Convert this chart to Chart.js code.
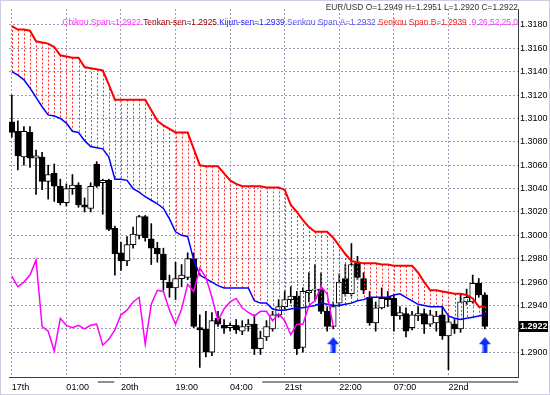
<!doctype html>
<html lang="en">
<head>
<meta charset="UTF-8" />
<title>EUR/USD Ichimoku</title>
<script src="https://cdn.jsdelivr.net/npm/chart.js"></script>
<style>
  html, body { margin: 0; padding: 0; background: #fff; }
  canvas { display: block; }
</style>
</head>
<body>
<canvas id="ichimoku" width="550" height="395"></canvas>
<script>
// candles, one per bar (bar 0 = left edge)
const opens = [
  1.3097, 1.3089, 1.3067, 1.3088, 1.3066, 1.3067, 1.3046, 1.3053, 1.3042, 1.3028,
  1.3040, 1.3043, 1.3026, 1.3023, 1.3061, 1.3045, 1.3047, 1.3006, 1.2985, 1.2978,
  1.2992, 1.3000, 1.3016, 1.2997, 1.2989, 1.2984, 1.2960, 1.2955, 1.2963, 1.2964,
  1.2980, 1.2921, 1.2920, 1.2900, 1.2929, 1.2923, 1.2921, 1.2923, 1.2918, 1.2922,
  1.2924, 1.2903, 1.2913, 1.2920, 1.2932, 1.2939, 1.2945, 1.2948, 1.2904, 1.2951,
  1.2953, 1.2954, 1.2935, 1.2922, 1.2942, 1.2963, 1.2950, 1.2976, 1.2963, 1.2947,
  1.2925, 1.2938, 1.2947, 1.2946, 1.2931, 1.2933, 1.2921, 1.2931, 1.2933, 1.2924,
  1.2925, 1.2932, 1.2914, 1.2924, 1.2920, 1.2943, 1.2943, 1.2959, 1.2949
];
const highs = [
  1.3120, 1.3098, 1.3093, 1.3093, 1.3073, 1.3071, 1.3060, 1.3061, 1.3048, 1.3044,
  1.3052, 1.3045, 1.3032, 1.3045, 1.3063, 1.3048, 1.3048, 1.3008, 1.2994, 1.2999,
  1.3007, 1.3017, 1.3017, 1.3010, 1.2994, 1.2989, 1.2966, 1.2977, 1.2975, 1.2985,
  1.2985, 1.2932, 1.2935, 1.2934, 1.2935, 1.2928, 1.2925, 1.2928, 1.2927, 1.2928,
  1.2932, 1.2918, 1.2927, 1.2935, 1.2945, 1.2952, 1.2956, 1.2952, 1.2955, 1.2968,
  1.2975, 1.2968, 1.2939, 1.2943, 1.2967, 1.2975, 1.2993, 1.2982, 1.2968, 1.2952,
  1.2943, 1.2955, 1.2952, 1.2949, 1.2939, 1.2938, 1.2935, 1.2939, 1.2937, 1.2936,
  1.2935, 1.2939, 1.2931, 1.2928, 1.2950, 1.2954, 1.2966, 1.2963, 1.2951
];
const lows = [
  1.3084, 1.3056, 1.3060, 1.3058, 1.3035, 1.3039, 1.3031, 1.3029, 1.3026, 1.3025,
  1.3035, 1.3024, 1.3020, 1.3020, 1.3041, 1.3018, 1.3004, 1.2966, 1.2970, 1.2974,
  1.2989, 1.2997, 1.2995, 1.2975, 1.2977, 1.2953, 1.2947, 1.2945, 1.2956, 1.2962,
  1.2921, 1.2887, 1.2896, 1.2897, 1.2922, 1.2916, 1.2918, 1.2916, 1.2915, 1.2918,
  1.2898, 1.2898, 1.2910, 1.2918, 1.2930, 1.2937, 1.2942, 1.2898, 1.2900, 1.2943,
  1.2945, 1.2933, 1.2918, 1.2920, 1.2939, 1.2948, 1.2948, 1.2962, 1.2950, 1.2923,
  1.2918, 1.2937, 1.2939, 1.2918, 1.2928, 1.2913, 1.2919, 1.2927, 1.2916, 1.2922,
  1.2918, 1.2911, 1.2885, 1.2916, 1.2917, 1.2941, 1.2942, 1.2947, 1.2920
];
const closes = [
  1.3088, 1.3068, 1.3089, 1.3066, 1.3068, 1.3046, 1.3052, 1.3042, 1.3028, 1.3040,
  1.3043, 1.3026, 1.3024, 1.3042, 1.3042, 1.3047, 1.3005, 1.2984, 1.2978, 1.2992,
  1.3001, 1.3016, 1.2998, 1.2989, 1.2984, 1.2962, 1.2955, 1.2963, 1.2966, 1.2980,
  1.2922, 1.2919, 1.2900, 1.2927, 1.2924, 1.2921, 1.2923, 1.2919, 1.2922, 1.2924,
  1.2903, 1.2912, 1.2922, 1.2932, 1.2939, 1.2945, 1.2948, 1.2903, 1.2952, 1.2953,
  1.2954, 1.2935, 1.2922, 1.2939, 1.2960, 1.2950, 1.2975, 1.2964, 1.2953, 1.2925,
  1.2938, 1.2946, 1.2945, 1.2931, 1.2934, 1.2918, 1.2932, 1.2933, 1.2924, 1.2932,
  1.2931, 1.2914, 1.2926, 1.2920, 1.2943, 1.2947, 1.2959, 1.2949, 1.2922
];

// ichimoku lines
const senkouA = [
  1.3140, 1.3137, 1.3133, 1.3126, 1.3118, 1.3110, 1.3103, 1.3102, 1.3100, 1.3096,
  1.3089, 1.3088, 1.3081, 1.3076, 1.3075, 1.3074, 1.3067, 1.3048, 1.3048, 1.3047,
  1.3040, 1.3037, 1.3033, 1.3030, 1.3027, 1.3023, 1.3014, 1.3003, 1.3000, 1.2999,
  1.2979, 1.2966, 1.2963, 1.2960, 1.2957, 1.2955, 1.2955, 1.2955, 1.2955, 1.2955,
  1.2944, 1.2942, 1.2942, 1.2937, 1.2936, 1.2936, 1.2937, 1.2938, 1.2938, 1.2939,
  1.2940, 1.2942, 1.2941, 1.2940, 1.2940, 1.2941, 1.2942, 1.2944, 1.2945, 1.2947,
  1.2947, 1.2947, 1.2947, 1.2949, 1.2950, 1.2947, 1.2944, 1.2941, 1.2940, 1.2939,
  1.2939, 1.2939, 1.2931, 1.2929, 1.2928, 1.2929, 1.2930, 1.2931, 1.2932
];
const senkouB = [
  1.3179, 1.3176, 1.3176, 1.3175, 1.3166, 1.3165, 1.3164, 1.3161, 1.3154, 1.3153,
  1.3152, 1.3152, 1.3144, 1.3143, 1.3142, 1.3141, 1.3129, 1.3116, 1.3116, 1.3116,
  1.3116, 1.3116, 1.3116, 1.3107, 1.3098, 1.3094, 1.3091, 1.3088, 1.3088, 1.3088,
  1.3074, 1.3060, 1.3059, 1.3059, 1.3059, 1.3053, 1.3047, 1.3044, 1.3042, 1.3042,
  1.3042, 1.3042, 1.3041, 1.3041, 1.3041, 1.3039, 1.3026, 1.3020, 1.3013, 1.3007,
  1.3003, 1.3003, 1.3003, 1.2998, 1.2991, 1.2984, 1.2978, 1.2977, 1.2976, 1.2976,
  1.2976, 1.2975, 1.2975, 1.2974, 1.2974, 1.2974, 1.2974, 1.2968, 1.2960, 1.2953,
  1.2953, 1.2952, 1.2951, 1.2950, 1.2950, 1.2949, 1.2946, 1.2939, 1.2939
];
const chikou = [
  1.2965, 1.2956, 1.2960, 1.2966, 1.2979, 1.2922, 1.2918, 1.2901, 1.2929, 1.2923,
  1.2921, 1.2923, 1.2920, 1.2923, 1.2924, 1.2906, 1.2911, 1.2919, 1.2932, 1.2936,
  1.2943, 1.2947, 1.2907, 1.2941, 1.2953, 1.2952, 1.2936, 1.2924, 1.2937, 1.2958,
  1.2952, 1.2972, 1.2964, 1.2947, 1.2927, 1.2937, 1.2943, 1.2946, 1.2938, 1.2934,
  1.2931, 1.2935, 1.2935, 1.2927, 1.2933, 1.2927, 1.2915, 1.2924, 1.2924, 1.2940,
  1.2944, 1.2956, 1.2950, 1.2922
];
const tenkanLast = 1.2925;
const kijunLast = 1.2939;
const params = '9,26,52,25,0';

// buy signals (blue arrows)
const signalBars = [53, 78];
const signalPrice = [1.2906, 1.2906];

// axes
const xTickBars = [0, 9, 18, 27, 36, 45, 54, 63, 72];
const xTickLabels = ['17th', '01:00', '20th', '19:00', '04:00', '21st', '22:00', '07:00', '22nd'];
const yTicks = [1.2900, 1.2920, 1.2940, 1.2960, 1.2980, 1.3000, 1.3020, 1.3040,
  1.3060, 1.3080, 1.3100, 1.3120, 1.3140, 1.3160, 1.3180];
// grey range marks under the time axis (in bars)
const sessionMarks = [[14.2, 16.9], [41.3, 83.5]];

const last = closes.length - 1;
const FONT = '"Liberation Sans", Arial, sans-serif';
const GRID = '#a09cb8';

function makeArrow() {
  const c = document.createElement('canvas');
  c.width = 12;
  c.height = 16;
  const g = c.getContext('2d');
  g.fillStyle = '#0a2cff';
  g.beginPath();
  g.moveTo(6, 0);
  g.lineTo(12, 7);
  g.lineTo(8.5, 7);
  g.lineTo(8.5, 16);
  g.lineTo(3.5, 16);
  g.lineTo(3.5, 7);
  g.lineTo(0, 7);
  g.closePath();
  g.fill();
  g.fillStyle = 'rgba(120,160,255,0.8)';
  g.fillRect(4, 8, 1, 7);
  return c;
}

const ichimokuPlugin = {
  id: 'ichimoku',
  beforeDraw(chart) {
    const { ctx } = chart;
    ctx.save();
    ctx.fillStyle = '#fff';
    ctx.fillRect(0, 0, chart.width, chart.height);
    ctx.restore();
  },
  afterDatasetDraw(chart, args) {
    // cloud hatching over the candle bodies
    if (args.index !== 1) return;
    const { ctx, chartArea: a, scales: { x, y } } = chart;
    ctx.save();
    ctx.beginPath();
    ctx.rect(a.left, a.top, a.right - a.left, a.bottom - a.top);
    ctx.clip();
    ctx.strokeStyle = '#ff2a2a';
    ctx.lineWidth = 1;
    ctx.setLineDash([2, 2]);
    for (let i = 0; i < senkouA.length; i++) {
      const px = Math.round(x.getPixelForValue(i)) + 0.5;
      const top = y.getPixelForValue(Math.max(senkouA[i], senkouB[i]));
      const bot = y.getPixelForValue(Math.min(senkouA[i], senkouB[i]));
      ctx.beginPath();
      ctx.moveTo(px, top);
      ctx.lineTo(px, bot);
      ctx.stroke();
    }
    ctx.restore();
  },
  afterDraw(chart) {
    const { ctx, chartArea: a, scales: { x, y } } = chart;
    ctx.save();

    // outer dotted frame
    ctx.strokeStyle = '#a498c4';
    ctx.setLineDash([1, 1]);
    ctx.strokeRect(0.5, 0.5, chart.width - 1, chart.height - 1);
    ctx.setLineDash([]);

    // grey range marks under the axis
    ctx.strokeStyle = '#8e8e8e';
    ctx.lineWidth = 2;
    sessionMarks.forEach(([s, e]) => {
      ctx.beginPath();
      ctx.moveTo(x.getPixelForValue(s), a.bottom + 5);
      ctx.lineTo(Math.min(x.getPixelForValue(e), a.right + 1), a.bottom + 5);
      ctx.stroke();
    });

    // last price box
    const py = Math.round(y.getPixelForValue(closes[last]));
    ctx.fillStyle = '#000';
    ctx.fillRect(a.right + 1, py - 5, 29, 11);
    ctx.fillStyle = '#fff';
    ctx.font = 'bold 9px ' + FONT;
    ctx.textAlign = 'left';
    ctx.textBaseline = 'middle';
    ctx.fillText(closes[last].toFixed(4), a.right + 2, py + 0.5);

    // header lines
    ctx.font = '8.4px ' + FONT;
    ctx.textBaseline = 'middle';
    ctx.textAlign = 'right';
    ctx.fillStyle = '#333';
    ctx.fillText('EUR/USD O=' + opens[last].toFixed(4) + ' H=' + highs[last].toFixed(4) +
      ' L=' + lows[last].toFixed(4) + ' C=' + closes[last].toFixed(4), a.right, 8);

    const parts = [
      ['Chikou Span=' + chikou[chikou.length - 1].toFixed(4), '#ff30ff'],
      ['Tenkan-sen=' + tenkanLast.toFixed(4), '#a00000'],
      ['Kijun-sen=' + kijunLast.toFixed(4), '#1c1cff'],
      ['Senkou Span A=' + senkouA[last].toFixed(4), '#5a50ff'],
      ['Senkou Span B=' + senkouB[last].toFixed(4), '#ff2020'],
      [' ' + params, '#ff30ff']
    ];
    const gap = ctx.measureText(' ').width;
    let total = 0;
    parts.forEach((p) => { total += ctx.measureText(p[0]).width; });
    total += gap * (parts.length - 1);
    let cx = a.right - total;
    ctx.textAlign = 'left';
    parts.forEach((p) => {
      ctx.fillStyle = p[1];
      ctx.fillText(p[0], cx, 23);
      cx += ctx.measureText(p[0]).width + gap;
    });
    ctx.restore();
  }
};

const bars = closes.map((c, i) => i);

new Chart(document.getElementById('ichimoku'), {
  type: 'bar',
  data: {
    datasets: [
      {
        // wicks
        type: 'bar',
        data: bars.map((i) => ({ x: i, y: [lows[i], highs[i]] })),
        backgroundColor: '#000',
        barThickness: 1,
        grouped: false,
        order: 10
      },
      {
        // bodies
        type: 'bar',
        data: bars.map((i) => ({ x: i, y: [opens[i], closes[i]] })),
        backgroundColor: (c) => (closes[c.dataIndex] < opens[c.dataIndex] ? '#000' : '#fff'),
        borderColor: '#000',
        borderWidth: 1,
        borderSkipped: false,
        barThickness: 6,
        minBarLength: 1,
        grouped: false,
        order: 9
      },
      {
        type: 'line',
        label: 'Senkou Span B',
        data: senkouB.map((v, i) => ({ x: i, y: v })),
        borderColor: '#ff0000',
        borderWidth: 2,
        pointRadius: 0,
        tension: 0,
        order: 4
      },
      {
        type: 'line',
        label: 'Senkou Span A',
        data: senkouA.map((v, i) => ({ x: i, y: v })),
        borderColor: '#0000ff',
        borderWidth: 1.5,
        pointRadius: 0,
        tension: 0,
        order: 3
      },
      {
        type: 'line',
        label: 'Chikou Span',
        data: chikou.map((v, i) => ({ x: i, y: v })),
        borderColor: '#ff00ff',
        borderWidth: 1.5,
        pointRadius: 0,
        tension: 0,
        order: 2
      },
      {
        type: 'line',
        label: 'Signal',
        data: signalBars.map((b, i) => ({ x: b, y: signalPrice[i] })),
        showLine: false,
        pointStyle: makeArrow(),
        pointRadius: 8,
        order: 1
      }
    ]
  },
  options: {
    responsive: false,
    animation: false,
    devicePixelRatio: 1,
    layout: { padding: { top: 1, left: 1, right: 0, bottom: 0 } },
    plugins: { legend: { display: false }, tooltip: { enabled: false } },
    scales: {
      x: {
        type: 'linear',
        min: -0.46,
        max: 83.47,
        offset: false,
        afterBuildTicks: (s) => { s.ticks = xTickBars.map((v) => ({ value: v })); },
        afterFit: (s) => { s.height = 18; },
        ticks: {
          autoSkip: false,
          maxRotation: 0,
          align: 'start',
          padding: 5,
          color: '#000',
          font: { family: FONT, size: 9 },
          callback: (v) => xTickLabels[xTickBars.indexOf(v)] || ''
        },
        grid: { color: GRID, drawTicks: false, offset: false },
        border: { color: '#3a3a3a', width: 1, dash: [2, 2] }
      },
      y: {
        position: 'right',
        min: 1.28788,
        max: 1.31936,
        afterBuildTicks: (s) => { s.ticks = yTicks.map((v) => ({ value: v })); },
        afterFit: (s) => { s.width = 32; },
        ticks: {
          padding: 2,
          color: '#000',
          font: { family: FONT, size: 9 },
          callback: (v) => (Math.abs(v - closes[last]) < 0.0006 ? '' : v.toFixed(4))
        },
        grid: { color: GRID, drawTicks: false },
        border: { color: '#3a3a3a', width: 1, dash: [2, 2] }
      }
    }
  },
  plugins: [ichimokuPlugin]
});
</script>
</body>
</html>
